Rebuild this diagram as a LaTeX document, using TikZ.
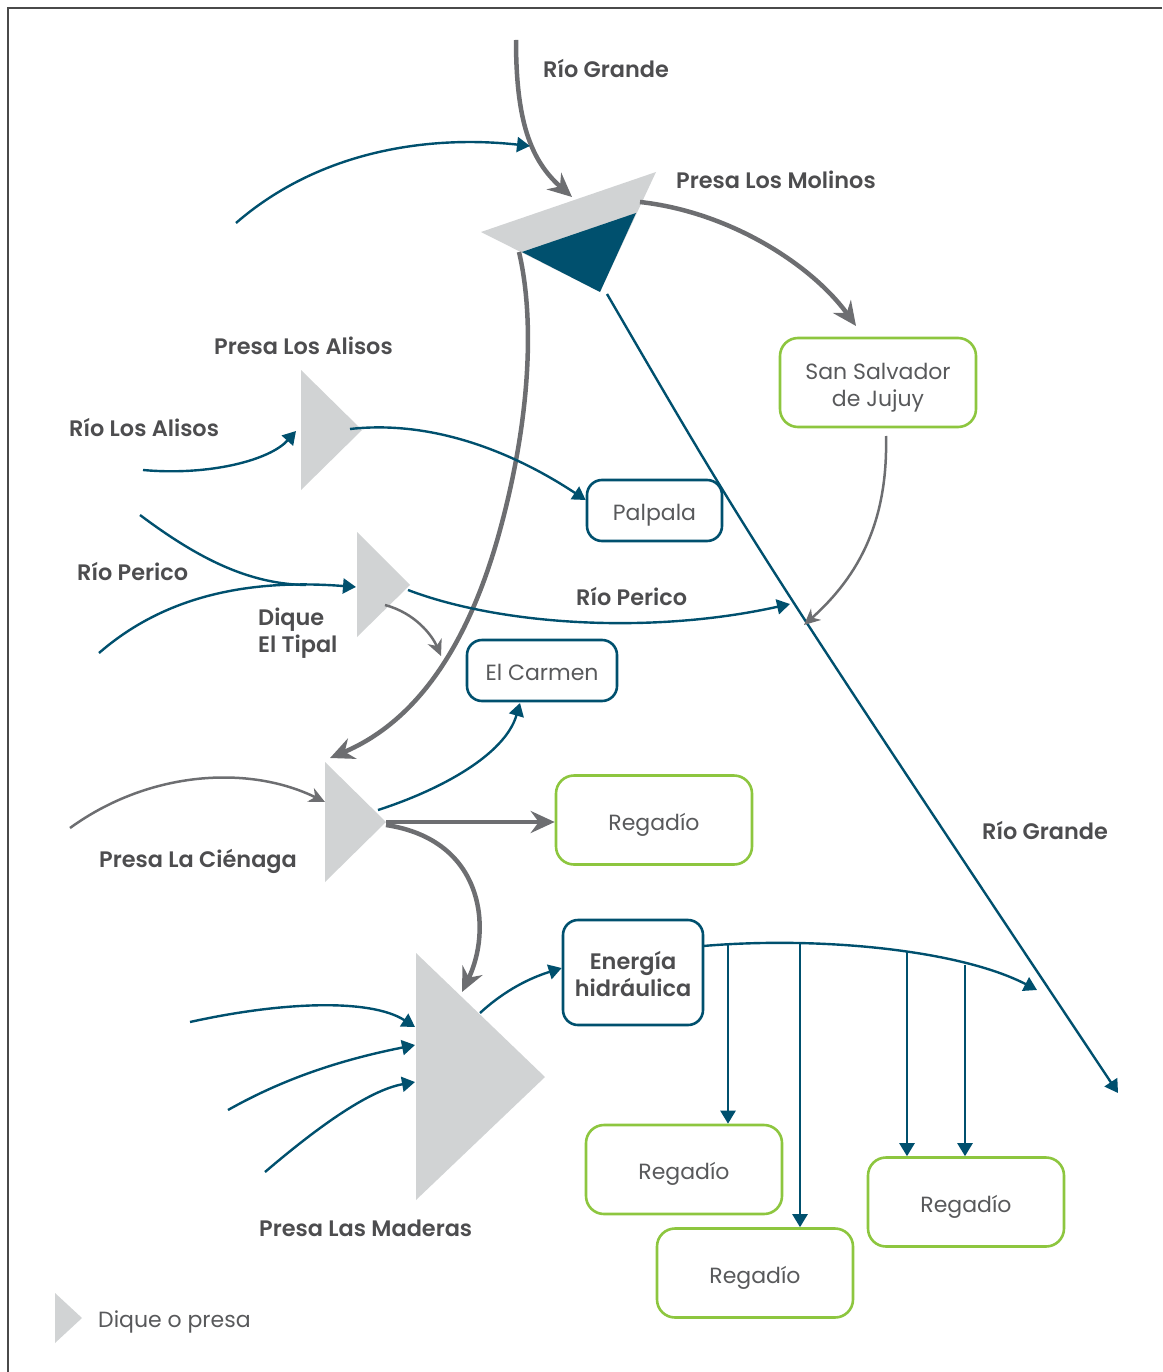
\documentclass[tikz,border=0pt]{standalone}
\usepackage{fontspec}
\setmainfont{Poppins}[BoldFont={Poppins SemiBold}]
\usetikzlibrary{arrows.meta}

\definecolor{riverblue}{HTML}{00506E}
\definecolor{damgray}{HTML}{D1D3D4}
\definecolor{flowgray}{HTML}{6D6E71}
\definecolor{leafgreen}{HTML}{8DC63F}
\definecolor{labelgray}{HTML}{4D4D4F}
\definecolor{boxtext}{HTML}{58595B}
\definecolor{framegray}{HTML}{4A4A4A}

\begin{document}
\begin{tikzpicture}[x=1pt,y=-1pt,
  dam/.style={fill=damgray,draw=none},
  blueline/.style={draw=riverblue,line width=2.4pt},
  blueflow/.style={blueline,-{Triangle[length=13pt,width=15pt]}},
  graythick/.style={draw=flowgray,line width=4.5pt,-{Stealth[length=24pt,width=22pt,inset=8pt]}},
  graythin/.style={draw=flowgray,line width=2.5pt,-{Stealth[length=16pt,width=15pt,inset=5pt]}},
  rivertext/.style={anchor=base west,inner sep=0pt,text=labelgray,font=\fontsize{22.4}{27}\selectfont\bfseries},
  basebox/.style={line width=2.6pt,inner sep=0pt,align=center,text=boxtext,
    text height=20pt,text depth=0pt,font=\fontsize{22}{27}\selectfont},
  twolines/.style={text height=48pt},
  greenbox/.style={basebox,draw=leafgreen,rounded corners=18pt,minimum width=196pt,minimum height=89pt},
  bluebox/.style={basebox,draw=riverblue,rounded corners=15pt}
]
\useasboundingbox (0,0) rectangle (1162,1372);

% frame
\draw[framegray,line width=2pt] (8,1372) -- (8,8) -- (1162,8);

% ---------- dams ----------
\fill[damgray] (481,232) -- (656,172) -- (600,292) -- cycle;
\fill[riverblue] (522,252) -- (636,213) -- (600,292) -- cycle;
\fill[dam] (301,370) -- (301,490) -- (362,430) -- cycle;
\fill[dam] (357,532) -- (357,637) -- (410,585) -- cycle;
\fill[dam] (325,762) -- (325,882) -- (386,822) -- cycle;
\fill[dam] (416,953) -- (416,1200) -- (545,1077) -- cycle;
\fill[dam] (55,1293) -- (55,1343) -- (82,1318) -- cycle;

% ---------- boxes ----------
\node[greenbox,twolines] (jujuy) at (878,382.5) {San Salvador\\de Jujuy};
\node[bluebox,minimum width=135pt,minimum height=61pt] (palpala) at (654.5,510.5) {Palpala};
\node[bluebox,minimum width=150pt,minimum height=61pt] (carmen) at (542,670.5) {El Carmen};
\node[greenbox] (reg1) at (654,820) {Regadío};
\node[bluebox,twolines,minimum width=140pt,minimum height=105pt,font=\fontsize{22.4}{27}\selectfont\bfseries,text=labelgray] (energia) at (633,972.5) {Energía\\hidráulica};
\node[greenbox] (reg2) at (684,1169.5) {Regadío};
\node[greenbox] (reg3) at (755,1273) {Regadío};
\node[greenbox] (reg4) at (966,1202) {Regadío};

% ---------- anchor points of the flows ----------
\coordinate (grandeIn) at (516,40);
\coordinate (molinosTop) at (572,197);
\coordinate (northIn) at (236,223);
\coordinate (northTip) at (530,146);
\coordinate (molinosEast) at (640,202);
\coordinate (molinosWest) at (519,252);
\coordinate (molinosSouth) at (607,294);
\coordinate (grandeOut) at (1118,1093);
\coordinate (alisosIn) at (143,470);
\coordinate (alisosBack) at (296,431);
\coordinate (alisosTip) at (350,429);
\coordinate (pericoA) at (140,515);
\coordinate (pericoJoin) at (306,585);
\coordinate (pericoB) at (99,653);
\coordinate (tipalBack) at (356,587);
\coordinate (tipalTip) at (408,590);
\coordinate (tipalLow) at (385,605);
\coordinate (tipalDrop) at (441,656);
\coordinate (pericoEnd) at (790,604);
\coordinate (jujuyOut) at (886,436);
\coordinate (jujuyEnd) at (804,625);
\coordinate (cienagaIn) at (70,828);
\coordinate (cienagaBack) at (325,802);
\coordinate (cienagaUp) at (378,810);
\coordinate (cienagaTip) at (386,822);
\coordinate (cienagaLow) at (386,825);
\coordinate (maderasTop) at (462,992);
\coordinate (maderasInA) at (190,1022);
\coordinate (maderasInB) at (228,1110);
\coordinate (maderasInC) at (265,1172);
\coordinate (maderasBackA) at (415,1027);
\coordinate (maderasBackB) at (415,1045);
\coordinate (maderasBackC) at (415,1082);
\coordinate (maderasOut) at (480,1013);
\coordinate (energiaOut) at (703,946);
\coordinate (canalEnd) at (1037,990);
\coordinate (b1) at (728,944.3);
\coordinate (b2) at (800,943.2);
\coordinate (b3) at (907,952.3);
\coordinate (b4) at (965,964.7);

% ---------- Río Grande and Los Molinos ----------
\draw[graythick] (grandeIn) .. controls (516,120) and (530,160) .. (molinosTop);
\draw[blueflow] (northIn) .. controls (320,150) and (430,135) .. (northTip);
\draw[graythick] (molinosEast) .. controls (730,212) and (812,265) .. (856,326);
\draw[graythick] (molinosWest) .. controls (535,320) and (530,420) .. (500,530)
  .. controls (470,640) and (420,720) .. (330,758);
\draw[blueflow] (molinosSouth) .. controls (750,540) .. (grandeOut);

% ---------- Los Alisos ----------
\draw[blueflow] (alisosIn) .. controls (210,476) and (270,460) .. (alisosBack);
\draw[blueflow] (alisosTip) .. controls (430,420) and (510,450) .. (palpala.west |- 0,500);

% ---------- El Tipal ----------
\draw[blueline] (pericoA) .. controls (200,560) and (250,584) .. (pericoJoin);
\draw[blueflow] (pericoB) .. controls (160,600) and (240,578) .. (tipalBack);
\draw[blueflow] (tipalTip) .. controls (500,625) and (650,635) .. (pericoEnd);
\draw[graythin] (tipalLow) .. controls (415,613) and (432,635) .. (tipalDrop);
\draw[graythin] (jujuyOut) .. controls (888,520) and (860,575) .. (jujuyEnd);

% ---------- La Ciénaga ----------
\draw[graythin] (cienagaIn) .. controls (150,770) and (250,765) .. (cienagaBack);
\draw[blueflow] (cienagaUp) .. controls (440,790) and (505,755) .. (520,703);
\draw[graythick] (cienagaTip) -- (reg1.west |- cienagaTip);
\draw[graythick] (cienagaLow) .. controls (485,840) and (492,930) .. (maderasTop);

% ---------- Las Maderas ----------
\draw[blueflow] (maderasInA) .. controls (280,1002) and (370,998) .. (maderasBackA);
\draw[blueflow] (maderasInB) .. controls (290,1075) and (350,1058) .. (maderasBackB);
\draw[blueflow] (maderasInC) .. controls (320,1125) and (370,1090) .. (maderasBackC);
\draw[blueflow] (maderasOut) .. controls (505,990) and (530,978) .. (energia.west |- 0,968);

% ---------- canal and irrigation ----------
\draw[blueflow] (energiaOut) .. controls (820,936) and (960,950) .. (canalEnd);
\draw[blueflow] (b1) -- (b1 |- reg2.north);
\draw[blueflow] (b2) -- (b2 |- reg3.north);
\draw[blueflow] (b3) -- (b3 |- reg4.north);
\draw[blueflow] (b4) -- (b4 |- reg4.north);

% ---------- labels ----------
\node[rivertext] (tRG1) at (543,78) {Río Grande};
\node[rivertext] (tMol) at (676,189) {Presa Los Molinos};
\node[rivertext] (tAli) at (214,354) {Presa Los Alisos};
\node[rivertext] (tRLA) at (69,436) {Río Los Alisos};
\node[rivertext] (tRP1) at (77,580) {Río Perico};
\node[rivertext] (tDq) at (258,625) {Dique};
\node[rivertext] (tTip) at (258,652) {El Tipal};
\node[rivertext] (tRP2) at (576,605) {Río Perico};
\node[rivertext] (tCie) at (99,867) {Presa La Ciénaga};
\node[rivertext] (tRG2) at (982,839) {Río Grande};
\node[rivertext] (tMad) at (259,1236) {Presa Las Maderas};
\node[rivertext,font=\fontsize{22}{27}\selectfont,text=boxtext] (tLeg) at (98,1327) {Dique o presa};

\end{tikzpicture}
\end{document}
